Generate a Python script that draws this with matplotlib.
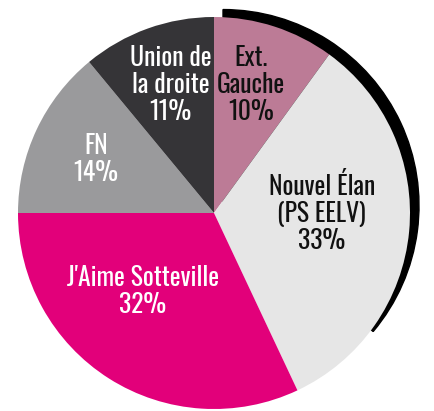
import numpy as np
import matplotlib.pyplot as plt
from matplotlib.patches import Wedge

# data
labels = ['Ext.\nGauche', 'Nouvel Élan\n(PS EELV)', "J'Aime Sotteville", 'FN', 'Union de\nla droite']
values = [10, 33, 32, 14, 11]
colors = ['#BC7B96', '#E6E6E6', '#E2007A', '#9A9A9C', '#353437']
text_colors = ['#111111', '#111111', 'white', 'white', 'white']
# label placement (radius, angle shift in degrees)
label_r = [0.68, 0.55, 0.54, 0.66, 0.69]
label_shift = [2, 5, -10, 1, -1]

plt.rcParams['font.family'] = ['Oswald', 'Fira Sans Condensed', 'DejaVu Sans']

fig = plt.figure(figsize=(4.35, 4.11), dpi=100)
ax = fig.add_axes([0, 0, 1, 1])

# black shadow crescent on the right
ax.add_patch(Wedge((0.046, 0.038), 1.0, -40, 90, color='black', zorder=0))

wedges, _ = ax.pie(values, colors=colors, startangle=90, counterclock=False,
                   radius=1.0, wedgeprops=dict(linewidth=0))
ax.set_xlim(-214 / 196, (435 - 214) / 196)
ax.set_ylim(-198 / 196, 213 / 196)
ax.set_aspect('auto')
ax.axis('off')

for w, lab, v, tc, r, sh in zip(wedges, labels, values, text_colors, label_r, label_shift):
    ang = np.deg2rad((w.theta1 + w.theta2) / 2 + sh)
    ax.text(r * np.cos(ang), r * np.sin(ang), f'{lab}\n{v}%', color=tc,
            ha='center', va='center', fontsize=18.5, fontweight=600,
            linespacing=1.05, zorder=5)

fig.savefig('out.png', dpi=100)
